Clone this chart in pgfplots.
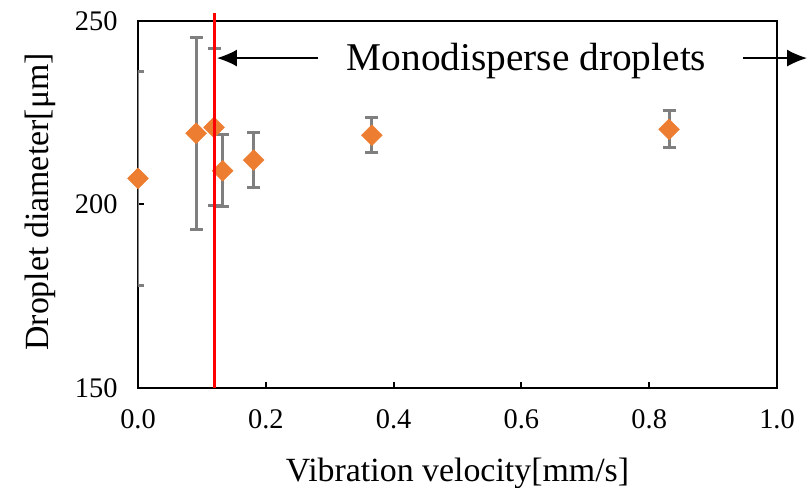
\documentclass[border=0pt]{standalone}
\usepackage{pgfplots}
\pgfplotsset{compat=1.18}
\usepackage{fontspec}
\setmainfont{Liberation Serif}
\usetikzlibrary{arrows.meta}
\definecolor{orng}{HTML}{ED7D31}
\definecolor{ebar}{HTML}{7F7F7F}
\begin{document}
\begin{tikzpicture}
\useasboundingbox (-138bp,-100bp) rectangle (670bp,388bp);
\begin{axis}[
  scale only axis, width=639bp, height=367bp,
  xmin=0, xmax=1, ymin=150, ymax=250,
  xtick={0,0.2,0.4,0.6,0.8,1}, ytick={150,200,250},
  tick align=inside, xtick pos=bottom, ytick pos=left,
  major tick length=6bp,
  every tick/.style={black, line width=2bp},
  axis line style={line width=2.2bp},
  clip mode=individual,
  /pgf/number format/assume math mode=true,
  tick label style={font=\fontsize{28.5}{28.5}\selectfont},
  xticklabel style={/pgf/number format/fixed, /pgf/number format/fixed zerofill, /pgf/number format/precision=1, yshift=-18bp},
  yticklabel style={xshift=-17bp},
  label style={font=\fontsize{34}{34}\selectfont},
  xlabel={Vibration velocity[mm/s]},
  ylabel={Droplet diameter[μm]},
  xlabel style={at={(axis description cs:0.5,-0.2561)}, anchor=base},
  ylabel style={at={(axis description cs:-0.1408,0.507)}, anchor=base, rotate=0},
]
\addplot[orng, only marks, mark=square*, mark size=7.4bp,
  mark options={rotate=45, fill=orng, draw=orng},
  error bars/.cd, y dir=both, y explicit,
  error bar style={ebar, line width=3bp},
  error mark options={rotate=90, mark size=6.5bp, ebar, line width=3bp}]
  table[x=x, y=y, y error=e] {
x y e
0.000 207.1 29.2
0.091 219.4 26.2
0.119 221.0 21.4
0.1325 209.2 9.8
0.181 212.1 7.6
0.366 218.9 4.8
0.831 220.5 5.0
};
\draw[red, line width=2.5bp] (axis cs:0.12,150) -- (axis cs:0.12,252.2);
\draw[line width=1.5bp, -{Latex[length=20bp,width=17bp]}] (axis cs:0.2817,239.9) -- (axis cs:0.1236,239.9);
\draw[line width=1.5bp, -{Latex[length=20bp,width=17bp]}] (axis cs:0.947,239.9) -- (axis cs:1.047,239.9);
\node[font=\fontsize{39.5}{39.5}\selectfont, anchor=base] at (axis cs:0.608,236.6) {Monodisperse droplets};
\end{axis}
\end{tikzpicture}
\end{document}
